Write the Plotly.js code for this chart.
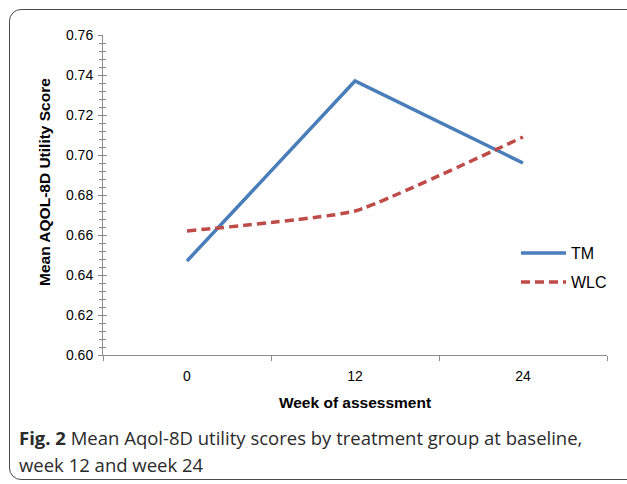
<!DOCTYPE html>
<html>
<head>
<meta charset="utf-8">
<script src="https://cdn.plot.ly/plotly-3.0.1.min.js"></script>
<style>
  html, body { margin: 0; padding: 0; background: #fff; width: 627px; height: 484px; overflow: hidden; }
  #frame { position: absolute; left: 9px; top: 9px; width: 660px; height: 471px; border: 1.6px solid #4a4a4a; border-radius: 12px; box-sizing: border-box; }
  #chart { position: absolute; left: 0; top: 0; width: 627px; height: 484px; }
</style>
</head>
<body>
<div id="frame"></div>
<div id="chart"></div>
<script>
// Data
const weeks = ['0', '12', '24'];
const tmValues = [0.647, 0.737, 0.696];
const wlcValues = [0.662, 0.672, 0.709];
const seriesNames = ['TM', 'WLC'];
const yTicks = [0.60, 0.62, 0.64, 0.66, 0.68, 0.70, 0.72, 0.74, 0.76];

const W = 627, H = 484;
const L = 103, R = 20, T = 35, B = 129;
const pw = W - L - R, ph = H - T - B;
const px = x => (x - L) / pw;
const py = y => (H - B - y) / ph;

const traces = [
  { x: weeks, y: tmValues, name: seriesNames[0], type: 'scatter', mode: 'lines',
    line: { color: '#4a7ebb', width: 3.5 }, legend: 'legend' },
  { x: weeks, y: wlcValues, name: seriesNames[1], type: 'scatter', mode: 'lines',
    line: { color: '#be4b48', width: 3.5, dash: '9px,5px', shape: 'spline', smoothing: 0.4 }, legend: 'legend2' }
];

const axisFont = { family: 'Liberation Sans, Arial, sans-serif', size: 14, color: '#000' };
const yaxisCommon = {
  range: [0.60, 0.76], tickvals: yTicks, ticktext: yTicks.map(v => v.toFixed(2)),
  showgrid: false, zeroline: false, showline: true, linecolor: '#8c8c8c', linewidth: 1,
  tickcolor: '#8c8c8c', ticklen: 4, tickwidth: 1,
  minor: { dtick: 0.004, tick0: 0.60, ticklen: 3, tickcolor: '#8c8c8c', showgrid: false }
};
const legendFont = { family: 'Liberation Sans, Arial, sans-serif', size: 16, color: '#000' };

const layout = {
  width: W, height: H,
  margin: { l: L, r: R, t: T, b: B },
  paper_bgcolor: 'rgba(0,0,0,0)', plot_bgcolor: 'rgba(0,0,0,0)',
  showlegend: true,
  xaxis: {
    type: 'category', range: [-0.5, 2.5], tickson: 'boundaries',
    ticks: 'outside', ticklen: 5, tickcolor: '#8c8c8c', tickwidth: 1,
    showline: true, linecolor: '#8c8c8c', linewidth: 1, showgrid: false, zeroline: false,
    tickfont: axisFont, ticklabelstandoff: 8,
    title: { text: '<b>Week of assessment</b>', font: { family: 'Liberation Sans, Arial, sans-serif', size: 15.5, color: '#000' }, standoff: 14 }
  },
  yaxis: Object.assign({}, yaxisCommon, {
    ticks: 'outside', tickfont: axisFont, ticklabelstandoff: 2,
    minor: Object.assign({}, yaxisCommon.minor, { ticks: 'outside' })
  }),
  yaxis2: Object.assign({}, yaxisCommon, {
    overlaying: 'y', ticks: 'inside', showticklabels: false,
    minor: Object.assign({}, yaxisCommon.minor, { ticks: 'inside' })
  }),
  legend: { x: px(516), y: py(253), xanchor: 'left', yanchor: 'middle', bgcolor: 'rgba(0,0,0,0)', itemwidth: 45, font: legendFont },
  legend2: { x: px(516), y: py(282), xanchor: 'left', yanchor: 'middle', bgcolor: 'rgba(0,0,0,0)', itemwidth: 45, font: legendFont },
  annotations: [
    { xref: 'paper', yref: 'paper', x: px(44), y: py(182), xanchor: 'center', yanchor: 'middle', showarrow: false, textangle: -90,
      text: '<b>Mean AQOL-8D Utility Score</b>',
      font: { family: 'Liberation Sans, Arial, sans-serif', size: 15.5, color: '#000' } },
    { xref: 'paper', yref: 'paper', x: px(17), y: py(437), xanchor: 'left', yanchor: 'middle', showarrow: false,
      text: '<b>Fig. 2</b> Mean Aqol-8D utility scores by treatment group at baseline,',
      font: { family: 'Open Sans, sans-serif', size: 18.5, color: '#2b2b2b' } },
    { xref: 'paper', yref: 'paper', x: px(17), y: py(464), xanchor: 'left', yanchor: 'middle', showarrow: false,
      text: 'week 12 and week 24',
      font: { family: 'Open Sans, sans-serif', size: 18.5, color: '#2b2b2b' } }
  ]
};

// invisible trace to anchor the overlaying axis that gives crossing ticks
traces.push({ x: weeks, y: tmValues, yaxis: 'y2', type: 'scatter', mode: 'lines', line: { width: 0 }, opacity: 0, showlegend: false, hoverinfo: 'skip' });

Plotly.newPlot('chart', traces, layout, { displayModeBar: false, staticPlot: true });
</script>
</body>
</html>
